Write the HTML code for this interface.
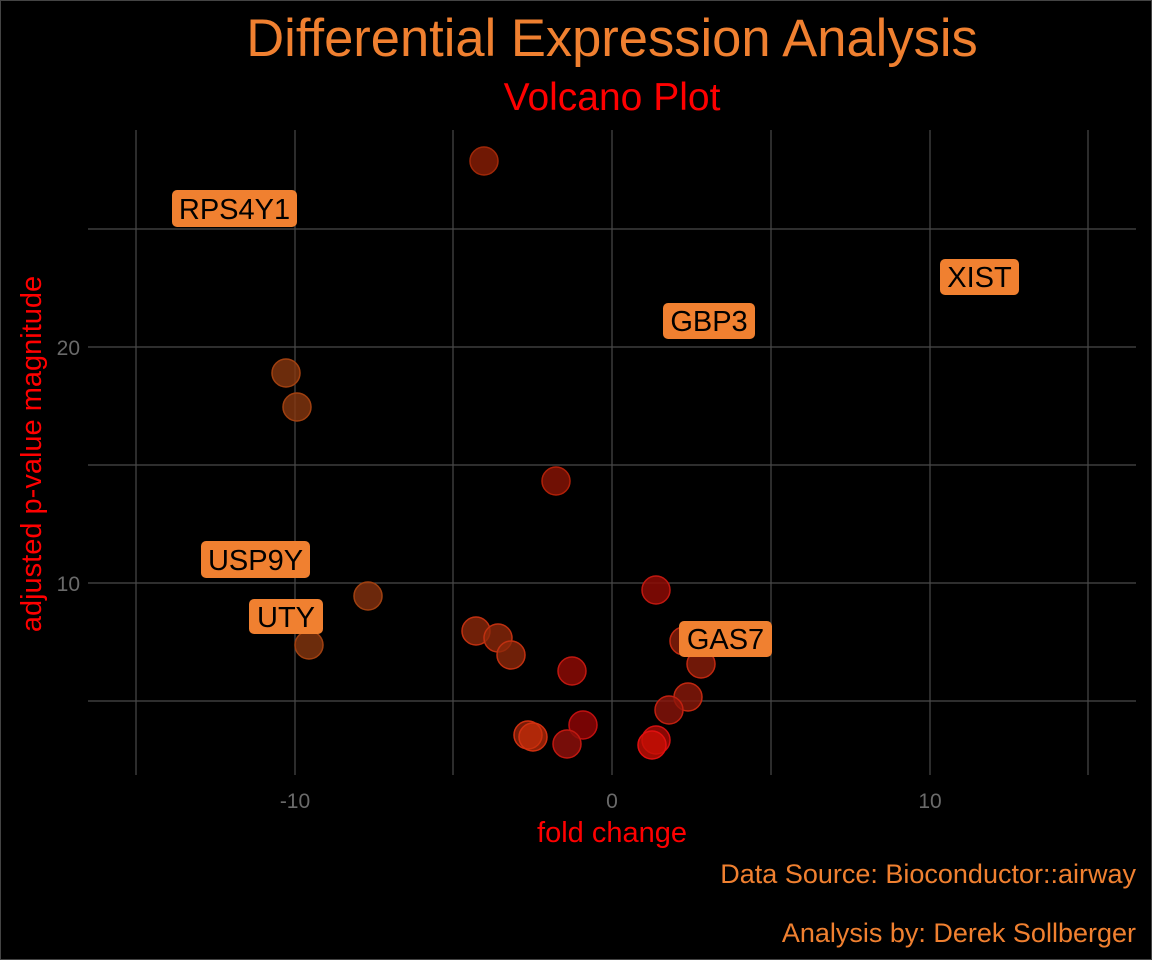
<!DOCTYPE html>
<html><head><meta charset="utf-8"><style>
html,body{margin:0;padding:0;background:#000;}
</style></head><body>
<svg width="1152" height="960" xmlns="http://www.w3.org/2000/svg" style="display:block;font-family:'Liberation Sans',sans-serif">
<rect width="1152" height="960" fill="#000"/>
<rect x="0.5" y="0.5" width="1151" height="959" fill="none" stroke="#444"/>
<g stroke="#4a4a4a" stroke-width="1.2">
<line x1="136" y1="130" x2="136" y2="775"/><line x1="295" y1="130" x2="295" y2="775"/>
<line x1="453" y1="130" x2="453" y2="775"/><line x1="612" y1="130" x2="612" y2="775"/>
<line x1="771" y1="130" x2="771" y2="775"/><line x1="930" y1="130" x2="930" y2="775"/>
<line x1="1088" y1="130" x2="1088" y2="775"/>
<line x1="88" y1="229" x2="1136" y2="229"/><line x1="88" y1="347" x2="1136" y2="347"/>
<line x1="88" y1="465" x2="1136" y2="465"/><line x1="88" y1="583" x2="1136" y2="583"/>
<line x1="88" y1="701" x2="1136" y2="701"/>
</g>
<g font-size="21" fill="#6a6a6a">
<text x="295" y="808" text-anchor="middle">-10</text><text x="612" y="808" text-anchor="middle">0</text>
<text x="930" y="808" text-anchor="middle">10</text>
<text x="80" y="355" text-anchor="end">20</text><text x="80" y="591" text-anchor="end">10</text>
</g>
<g stroke-width="1.5">
<circle cx="484" cy="161" r="14" fill="rgba(140,30,5,0.8)" stroke="#a02808"/>
<circle cx="286" cy="373" r="14" fill="rgba(135,55,15,0.8)" stroke="#a04010"/>
<circle cx="297" cy="407" r="14" fill="rgba(135,55,15,0.8)" stroke="#a04010"/>
<circle cx="556" cy="481" r="14" fill="rgba(140,20,5,0.8)" stroke="#b02008"/>
<circle cx="368" cy="596" r="14" fill="rgba(135,50,15,0.8)" stroke="#a04010"/>
<circle cx="309" cy="645" r="14" fill="rgba(135,55,15,0.8)" stroke="#a04010"/>
<circle cx="656" cy="590" r="14" fill="rgba(140,10,5,0.85)" stroke="#c01810"/>
<circle cx="476" cy="631" r="14" fill="rgba(140,40,10,0.8)" stroke="#c03010"/>
<circle cx="498" cy="638" r="14" fill="rgba(140,40,10,0.8)" stroke="#c03010"/>
<circle cx="511" cy="655" r="14" fill="rgba(140,40,10,0.8)" stroke="#c03010"/>
<circle cx="572" cy="671" r="14" fill="rgba(140,10,5,0.85)" stroke="#c01810"/>
<circle cx="684" cy="641" r="14" fill="rgba(140,30,10,0.8)" stroke="#c02810"/>
<circle cx="701" cy="664" r="14" fill="rgba(140,30,10,0.8)" stroke="#c02810"/>
<circle cx="688" cy="697" r="14" fill="rgba(140,25,10,0.8)" stroke="#c02810"/>
<circle cx="669" cy="710" r="14" fill="rgba(140,20,10,0.8)" stroke="#c02010"/>
<circle cx="583" cy="725" r="14" fill="rgba(140,5,5,0.85)" stroke="#c01010"/>
<circle cx="528" cy="735" r="14" fill="rgba(150,35,10,0.8)" stroke="#d03010"/>
<circle cx="533" cy="737" r="14" fill="rgba(200,45,10,0.7)" stroke="#d03010"/>
<circle cx="567" cy="744" r="14" fill="rgba(140,15,10,0.85)" stroke="#c01810"/>
<circle cx="656" cy="740" r="14" fill="rgba(170,10,5,0.8)" stroke="#d01010"/>
<circle cx="652" cy="745" r="14" fill="rgba(200,15,5,0.8)" stroke="#e01010"/>
</g>
<g fill="#F08030">
<rect x="172" y="190" width="125" height="37" rx="5"/>
<rect x="940" y="259" width="79" height="36" rx="5"/>
<rect x="663" y="303" width="92" height="36" rx="5"/>
<rect x="201" y="541" width="109" height="37" rx="5"/>
<rect x="249" y="599" width="74" height="35" rx="5"/>
<rect x="679" y="621" width="93" height="36" rx="5"/>
</g>
<g font-size="29" fill="#000" text-anchor="middle">
<text x="234.5" y="219">RPS4Y1</text>
<text x="979.5" y="287">XIST</text>
<text x="709" y="331">GBP3</text>
<text x="255.5" y="570">USP9Y</text>
<text x="286" y="627">UTY</text>
<text x="725.5" y="649">GAS7</text>
</g>
<text x="612" y="56" font-size="52.5" fill="#F08030" text-anchor="middle">Differential Expression Analysis</text>
<text x="612" y="110" font-size="39" fill="#FF0000" text-anchor="middle">Volcano Plot</text>
<text x="612" y="842" font-size="29" fill="#FF0000" text-anchor="middle">fold change</text>
<text transform="translate(41,454) rotate(-90)" font-size="29" fill="#FF0000" text-anchor="middle">adjusted p-value magnitude</text>
<text x="1136" y="883" font-size="27" fill="#F08030" text-anchor="end">Data Source: Bioconductor::airway</text>
<text x="1136" y="942" font-size="27" fill="#F08030" text-anchor="end">Analysis by: Derek Sollberger</text>
</svg>
</body></html>
